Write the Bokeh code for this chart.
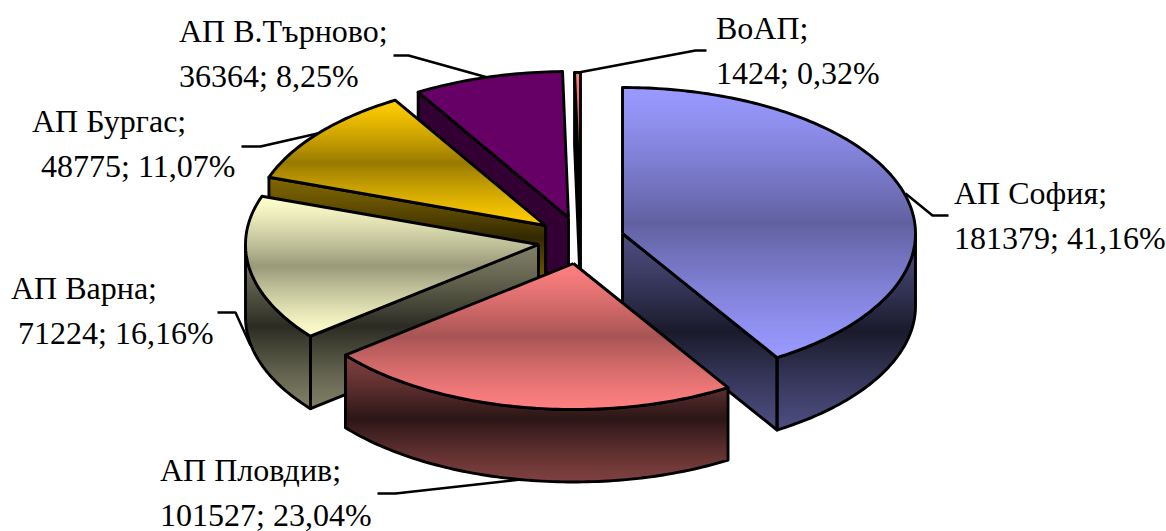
import math
from bokeh.plotting import figure
from bokeh.models import Range1d, ColumnDataSource
from bokeh.embed import file_html
from bokeh.resources import INLINE
from bokeh.core.properties import value

# ---- data, clockwise from 12 o'clock
names = ["АП София", "АП Пловдив", "АП Варна", "АП Бургас", "АП В.Търново", "ВоАП"]
values = [181379, 101527, 71224, 48775, 36364, 1424]
shares = ["41,16", "23,04", "16,16", "11,07", "8,25", "0,32"]

# ---- styles
light = ["#9999FF", "#FF8080", "#FFFFCC", "#FFCC00", "#660066", "#FF8080"]
top_mid = [0.63, 0.66, 0.60, 0.60, 1.0, 0.62]
side_edge = [0.5, 0.5, 0.5, 0.5, 0.5, 0.5]
side_mid = [0.17, 0.17, 0.17, 0.2, 0.5, 0.17]
apex_x = [622, 573, 538, 545, 568, 580]
apex_y = [233, 263, 244, 225, 217, 218]
paint_order = [5, 4, 3, 2, 0, 1]
RX, RY, DEPTH = 293, 146, 72.5
LW = 2.9
FONT = "Liberation Serif"
FSIZE = "32px"
label_x = [953.5, 159.5, 10.5, 31.5, 178.5, 715.5]
label_x2 = [953.5, 159.5, 17.5, 40.5, 178.5, 715.5]
label_y = [192, 469, 287, 120, 30, 27]
LINE_GAP = 45
leaders = [
    ([905, 932, 948], [193, 215, 215]),
    ([377, 395, 520], [493, 493, 479]),
    ([217, 235, 250], [312, 312, 345]),
    ([241, 260, 317], [146, 146, 133]),
    ([393, 408, 487], [55, 55, 77]),
    ([578, 695, 706], [72, 50, 50]),
]


def rgb(h):
    return [int(h[i:i + 2], 16) for i in (1, 3, 5)]


def grad(base, edge, mid, t):
    # t in 0..1: edge colour at both ends, mid colour in the centre
    k = edge + (mid - edge) * (1 - abs(2 * t - 1)) ** 1.25
    c = [min(255, round(v * k)) for v in base]
    return "#%02x%02x%02x" % tuple(c)


def clip(poly, y0, keep_below):
    out = []
    n = len(poly)
    for i in range(n):
        a, b = poly[i], poly[(i + 1) % n]
        ina = a[1] >= y0 if keep_below else a[1] <= y0
        inb = b[1] >= y0 if keep_below else b[1] <= y0
        if ina:
            out.append(a)
        if ina != inb:
            t = (y0 - a[1]) / (b[1] - a[1])
            out.append((a[0] + t * (b[0] - a[0]), y0))
    return out


def arc(cx, cy, a1, a2, dy=0.0):
    n = max(2, int(abs(a2 - a1)) + 2)
    pts = []
    for i in range(n):
        a = math.radians(a1 + (a2 - a1) * i / (n - 1))
        pts.append((cx + RX * math.sin(a), cy - RY * math.cos(a) + dy))
    return pts


def draw_bands(p, polys, ymin, ymax, base, edge, mid):
    xs, ys, cols = [], [], []
    step = 2.0
    for poly in polys:
        y = ymin
        while y < ymax:
            c = clip(clip(poly, y, True), y + step + 0.8, False)
            if len(c) >= 3:
                xs.append([q[0] for q in c])
                ys.append([q[1] for q in c])
                cols.append(grad(base, edge, mid, min(1.0, (y + step / 2 - ymin) / (ymax - ymin))))
            y += step
    if xs:
        p.patches(xs="xs", ys="ys", fill_color="c", line_color=None,
                  source=ColumnDataSource(dict(xs=xs, ys=ys, c=cols)))


def outline(p, polys):
    for poly in polys:
        xx = [q[0] for q in poly] + [poly[0][0]]
        yy = [q[1] for q in poly] + [poly[0][1]]
        p.line(xx, yy, line_color="black", line_width=LW, line_join="round")


p = figure(width=1166, height=531, x_range=Range1d(0, 1166), y_range=Range1d(531, 0),
           output_backend="svg", toolbar_location=None, x_axis_location=None,
           y_axis_location=None, min_border=0, outline_line_color=None,
           background_fill_color="white", border_fill_color="white")
p.grid.visible = False

total = sum(values)
angles = [0.0]
for v in values:
    angles.append(angles[-1] + 360.0 * v / total)

# leader lines sit behind the slices
for lx, ly in leaders:
    p.line(lx, ly, line_color="black", line_width=LW - 0.4)

for i in paint_order:
    a1, a2 = angles[i], angles[i + 1]
    cx, cy = apex_x[i], apex_y[i]
    base = rgb(light[i])
    walls = []
    if math.sin(math.radians(a1)) < -1e-6:
        e = arc(cx, cy, a1, a1)[0]
        walls.append([(cx, cy), e, (e[0], e[1] + DEPTH), (cx, cy + DEPTH)])
    if math.sin(math.radians(a2)) > 1e-6:
        e = arc(cx, cy, a2, a2)[0]
        walls.append([(cx, cy), e, (e[0], e[1] + DEPTH), (cx, cy + DEPTH)])
    r1, r2 = max(a1, 90.0), min(a2, 270.0)
    if r2 > r1:
        walls.append(arc(cx, cy, r1, r2) + arc(cx, cy, r2, r1, DEPTH))
    if walls:
        ally = [q[1] for w in walls for q in w]
        draw_bands(p, walls, min(ally), max(ally), base, side_edge[i], side_mid[i])
        outline(p, walls)
    top = [(cx, cy)] + arc(cx, cy, a1, a2)
    ty = [q[1] for q in top]
    draw_bands(p, [top], min(ty), max(ty), base, 1.0, top_mid[i])
    outline(p, [top])

for i, nm in enumerate(names):
    p.text([label_x[i]], [label_y[i]], text=[nm + ";"], text_font=value(FONT),
           text_font_size=FSIZE, text_color="black", text_baseline="alphabetic")
    p.text([label_x2[i]], [label_y[i] + LINE_GAP], text=["%d; %s%%" % (values[i], shares[i])],
           text_font=value(FONT), text_font_size=FSIZE, text_color="black",
           text_baseline="alphabetic")

open("out.html", "w").write(file_html(p, INLINE))
